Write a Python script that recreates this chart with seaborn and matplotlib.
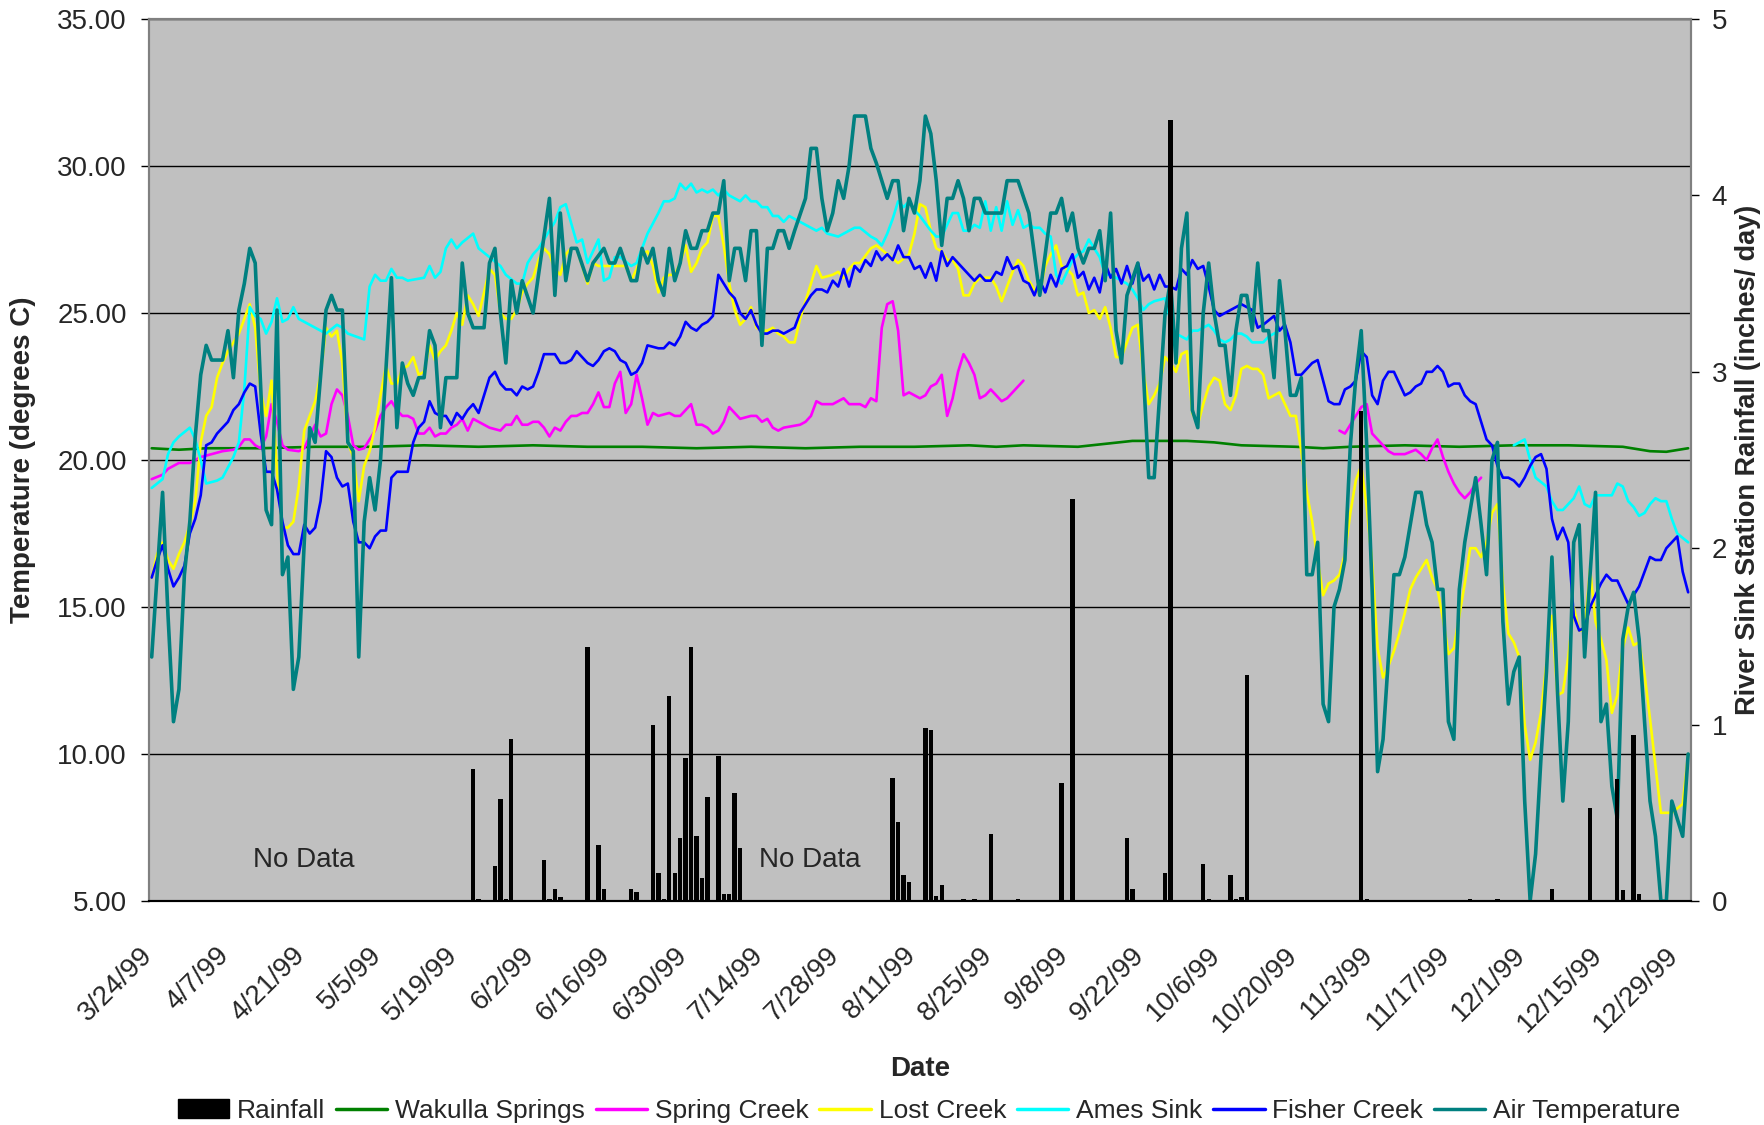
import numpy as np
import pandas as pd
import matplotlib
matplotlib.use('Agg')
import matplotlib.pyplot as plt
from matplotlib.lines import Line2D
from matplotlib.patches import Patch
from matplotlib.ticker import FormatStrFormatter
from matplotlib.transforms import ScaledTranslation
import seaborn as sns

# day 0 = 3/24/99, daily readings through 12/31/99
start = pd.Timestamp('1999-03-24')
n_days = 283

wakulla = [(0,20.4),(5,20.35),(10,20.4),(20,20.4),(30,20.45),(40,20.45),(50,20.5),(60,20.45),(70,20.5),(80,20.45),
           (90,20.45),(100,20.4),(110,20.45),(120,20.4),(130,20.45),(140,20.45),(150,20.5),(155,20.45),(160,20.5),
           (170,20.45),(175,20.55),(180,20.65),(185,20.65),(190,20.65),(195,20.6),(200,20.5),(210,20.45),(215,20.4),
           (220,20.45),(230,20.5),(240,20.45),(250,20.5),(260,20.5),(270,20.45),(275,20.3),(278,20.28),(282,20.4)]

spring = [(0,19.35),(2,19.5),(3,19.7),(5,19.9),(6,19.9),(7,19.9),(8,20.0),(9,20.1),(11,20.2),(13,20.3),(15,20.35),
          (16,20.45),(17,20.7),(18,20.7),(19,20.5),(20,20.4),(21,20.8),(22,21.9),(23,21.3),(24,20.5),(25,20.35),
          (27,20.3),(28,20.4),(29,20.8),(30,21.2),(31,20.8),(32,20.9),(33,21.9),(34,22.4),(35,22.2),(36,21.5),
          (37,20.5),(38,20.35),(39,20.4),(41,21.0),(42,21.5),(43,21.8),(44,22.0),(45,21.7),(46,21.5),(47,21.5),
          (48,21.4),(49,20.9),(50,20.9),(51,21.1),(52,20.8),(53,20.9),(54,20.9),(55,21.1),(56,21.2),(57,21.4),
          (58,21.0),(59,21.4),(60,21.3),(62,21.1),(64,21.0),(65,21.2),(66,21.2),(67,21.5),(68,21.2),(69,21.2),
          (70,21.3),(71,21.3),(72,21.1),(73,20.8),(74,21.1),(75,21.0),(76,21.3),(77,21.5),(78,21.5),(79,21.6),
          (80,21.6),(81,21.9),(82,22.3),(83,21.8),(84,21.8),(85,22.6),(86,23.0),(87,21.6),(88,21.9),(89,22.9),
          (90,22.1),(91,21.2),(92,21.6),(93,21.5),(95,21.6),(96,21.5),(97,21.5),(98,21.7),(99,21.9),(100,21.2),
          (101,21.2),(102,21.1),(103,20.9),(104,21.0),(105,21.3),(106,21.8),(107,21.6),(108,21.4),(110,21.5),
          (111,21.5),(112,21.3),(113,21.4),(114,21.1),(115,21.0),(116,21.1),(119,21.2),(120,21.3),(121,21.5),
          (122,22.0),(123,21.9),(125,21.9),(126,22.0),(127,22.1),(128,21.9),(129,21.9),(130,21.9),(131,21.8),
          (132,22.1),(133,22.0),(134,24.5),(135,25.3),(136,25.4),(137,24.4),(138,22.2),(139,22.3),(140,22.2),
          (141,22.1),(142,22.2),(143,22.5),(144,22.6),(145,22.9),(146,21.5),(147,22.1),(148,23.0),(149,23.6),
          (150,23.3),(151,22.9),(152,22.1),(153,22.2),(154,22.4),(155,22.2),(156,22.0),(157,22.1),(158,22.3),
          (159,22.5),(160,22.7),
          (218,21.0),(219,20.9),(220,21.2),(221,21.5),(222,21.8),(223,21.9),(224,20.9),(225,20.7),(226,20.5),
          (227,20.3),(228,20.2),(230,20.2),(232,20.35),(233,20.2),(234,20.0),(235,20.4),(236,20.7),(237,20.1),
          (238,19.6),(239,19.2),(240,18.9),(241,18.7),(242,18.9),(243,19.2),(244,19.4)]

lost = [(0,16.0),(1,16.8),(2,17.2),(3,16.6),(4,16.3),(5,16.8),(6,17.2),(7,17.8),(8,18.6),(9,20.6),(10,21.5),
        (11,21.8),(12,22.8),(13,23.3),(14,23.7),(15,24.0),(16,24.3),(17,24.8),(18,25.3),(19,24.5),(20,22.3),
        (21,21.5),(22,22.7),(23,19.6),(24,17.7),(25,17.7),(26,17.9),(27,19.1),(28,21.0),(29,21.5),(30,22.0),
        (31,22.9),(32,24.5),(33,24.2),(34,24.4),(35,23.3),(36,20.6),(37,20.1),(38,18.6),(39,19.8),(40,20.3),
        (41,21.1),(42,22.2),(43,23.2),(44,22.6),(45,22.6),(46,23.1),(47,23.2),(48,23.5),(49,22.9),(50,23.0),
        (51,23.9),(52,23.4),(53,23.7),(54,23.9),(55,24.4),(56,25.0),(57,24.6),(58,25.6),(59,25.3),(60,24.9),
        (61,25.7),(62,26.5),(63,26.3),(64,25.0),(65,24.8),(66,24.8),(67,25.1),(68,25.7),(69,26.0),(70,26.2),
        (71,26.8),(72,27.2),(73,27.0),(74,26.5),(75,26.3),(76,27.0),(77,27.2),(78,27.2),(79,26.6),(80,26.0),
        (81,26.7),(82,26.6),(83,26.6),(84,26.6),(85,26.6),(86,26.6),(87,26.6),(88,26.1),(89,26.5),(90,27.0),
        (91,27.1),(92,26.6),(93,25.7),(94,26.2),(95,26.3),(96,26.3),(97,26.7),(98,27.3),(99,26.4),(100,26.7),
        (101,27.2),(102,27.4),(103,28.3),(104,28.3),(105,27.3),(106,26.0),(107,25.1),(108,24.6),(109,24.8),
        (110,25.2),(111,24.5),(112,24.4),(113,24.4),(114,24.5),(115,24.3),(116,24.2),(117,24.0),(118,24.0),
        (119,24.8),(120,25.4),(121,26.0),(122,26.6),(123,26.2),(125,26.3),(126,26.4),(127,26.2),(128,26.5),
        (129,26.7),(130,26.7),(132,27.2),(133,27.3),(135,27.0),(137,26.7),(139,27.0),(140,27.7),(141,28.7),
        (142,28.6),(143,27.8),(144,27.2),(145,27.1),(146,26.8),(147,26.8),(148,26.5),(149,25.6),(150,25.6),
        (151,26.0),(152,26.2),(153,26.2),(154,26.2),(155,25.9),(156,25.4),(157,25.9),(158,26.4),(159,26.8),
        (160,26.6),(161,26.1),(162,25.8),(163,25.7),(164,26.6),(165,27.0),(166,27.3),(167,26.6),(168,26.5),
        (169,26.3),(170,25.6),(171,25.7),(172,25.0),(173,25.1),(174,24.8),(175,25.2),(176,24.5),(177,23.5),
        (178,23.5),(179,24.0),(180,24.5),(181,24.6),(182,23.0),(183,21.9),(184,22.2),(185,22.6),(186,23.5),
        (187,23.3),(188,23.0),(189,23.6),(190,23.7),(191,21.6),(192,21.2),(193,21.9),(194,22.5),(195,22.8),
        (196,22.7),(197,21.9),(198,21.7),(199,22.2),(200,23.1),(201,23.2),(202,23.1),(203,23.1),(204,22.9),
        (205,22.1),(206,22.2),(207,22.3),(208,21.9),(209,21.5),(210,21.5),(211,20.3),(212,18.9),(213,17.9),
        (214,16.6),(215,15.4),(216,15.8),(217,15.9),(218,16.1),(219,16.8),(220,18.2),(221,19.3),(222,19.8),
        (223,18.4),(224,16.5),(225,13.6),(226,12.6),(227,13.0),(228,13.5),(229,14.1),(230,14.8),(231,15.6),
        (232,16.0),(233,16.3),(234,16.6),(235,16.0),(236,15.6),(237,14.6),(238,13.4),(239,13.6),(240,14.7),
        (241,15.8),(242,17.0),(243,17.0),(244,16.7),(245,17.2),(246,18.2),(247,18.5),(248,15.8),(249,14.1),
        (250,13.8),(251,13.3),(252,11.0),(253,9.8),(254,10.4),(255,11.4),(256,13.1),(257,14.7),(258,12.0),
        (259,12.1),(260,13.3),(261,15.0),(262,14.2),(263,14.2),(264,16.3),(265,14.5),(266,13.9),(267,13.2),
        (268,11.4),(269,12.0),(270,13.6),(271,14.3),(272,13.7),(273,13.8),(274,12.7),(275,11.2),(276,9.6),
        (277,8.0),(278,8.0),(279,8.0),(281,8.3),(282,10.0)]

ames = [(0,19.05),(2,19.35),(3,20.2),(4,20.6),(5,20.8),(7,21.1),(8,20.7),(9,20.0),(10,19.2),(12,19.3),(13,19.4),
        (15,20.1),(16,20.6),(17,22.4),(18,25.2),(19,24.9),(20,24.8),(21,24.3),(22,24.7),(23,25.5),(24,24.7),
        (25,24.8),(26,25.2),(27,24.8),(28,24.7),(30,24.5),(32,24.3),(34,24.6),(35,24.5),(36,24.3),(39,24.1),
        (40,25.9),(41,26.3),(42,26.1),(43,26.1),(44,26.5),(45,26.2),(46,26.2),(47,26.1),(50,26.2),(51,26.6),
        (52,26.2),(53,26.4),(54,27.2),(55,27.5),(56,27.2),(57,27.4),(59,27.7),(60,27.2),(62,26.9),(64,26.6),
        (65,26.3),(67,26.0),(68,26.0),(69,26.7),(70,27.0),(71,27.2),(72,27.5),(73,27.8),(74,28.1),(75,28.6),
        (76,28.7),(78,27.4),(79,27.5),(80,26.7),(82,27.5),(83,26.1),(84,26.2),(85,26.9),(86,26.9),(88,26.6),
        (89,26.7),(90,27.2),(91,27.7),(93,28.4),(94,28.8),(95,28.8),(96,28.9),(97,29.4),(98,29.2),(99,29.4),
        (100,29.1),(101,29.2),(102,29.1),(103,29.2),(104,29.0),(105,29.2),(106,29.0),(108,28.8),(109,29.0),
        (110,28.8),(111,28.8),(112,28.6),(113,28.6),(114,28.3),(115,28.3),(116,28.1),(117,28.3),(118,28.2),
        (120,28.0),(122,27.8),(123,27.9),(124,27.7),(126,27.6),(127,27.7),(128,27.8),(129,27.9),(130,27.9),
        (132,27.6),(133,27.5),(134,27.3),(135,27.7),(136,28.2),(137,28.8),(138,28.6),(139,28.8),(140,28.5),
        (141,28.3),(143,27.8),(144,27.6),(145,27.6),(146,28.0),(147,28.4),(148,28.4),(149,27.8),(150,27.8),
        (151,28.0),(152,27.9),(153,28.8),(154,27.8),(155,28.6),(156,27.8),(157,28.8),(158,28.0),(159,28.5),
        (160,27.9),(161,28.0),(162,27.9),(163,27.9),(164,27.7),(165,27.6),(166,26.3),(167,26.0),(168,26.4),
        (169,26.8),(170,27.0),(171,27.1),(172,27.5),(173,27.2),(174,26.9),(175,26.3),(176,26.3),(177,26.2),
        (178,26.1),(179,26.0),(180,25.8),(181,25.5),(182,25.1),(183,25.3),(184,25.4),(186,25.5),(187,24.7),
        (188,24.3),(189,24.2),(190,24.1),(191,24.4),(192,24.4),(193,24.5),(194,24.6),(195,24.4),(196,24.1),
        (197,24.0),(198,24.1),(199,24.3),(200,24.3),(201,24.2),(202,24.0),(203,24.0),(204,24.0),(205,24.2),
        (206,24.3),(207,24.4),
        (250,20.5),(252,20.7),(253,20.0),(254,19.4),(256,19.1),(257,18.6),(258,18.3),(259,18.3),(260,18.5),
        (261,18.7),(262,19.1),(263,18.5),(264,18.4),(265,18.8),(266,18.8),(267,18.8),(268,18.8),(269,19.2),
        (270,19.1),(271,18.6),(272,18.4),(273,18.1),(274,18.2),(275,18.5),(276,18.7),(277,18.6),(278,18.6),
        (279,18.0),(280,17.5),(282,17.2)]

fisher = [(0,16.0),(1,16.6),(2,17.1),(3,16.3),(4,15.7),(5,16.0),(6,16.4),(7,17.5),(8,18.0),(9,18.8),(10,20.5),
          (11,20.6),(12,20.9),(13,21.1),(14,21.3),(15,21.7),(16,21.9),(17,22.3),(18,22.6),(19,22.5),(20,20.9),
          (21,19.6),(22,19.6),(23,19.0),(24,17.9),(25,17.1),(26,16.8),(27,16.8),(28,17.8),(29,17.5),(30,17.7),
          (31,18.6),(32,20.3),(33,20.1),(34,19.4),(35,19.1),(36,19.2),(37,17.9),(38,17.2),(39,17.2),(40,17.0),
          (41,17.4),(42,17.6),(43,17.6),(44,19.4),(45,19.6),(46,19.6),(47,19.6),(48,20.6),(49,21.1),(50,21.3),
          (51,22.0),(52,21.6),(53,21.5),(54,21.5),(55,21.2),(56,21.6),(57,21.4),(58,21.7),(59,21.9),(60,21.6),
          (61,22.2),(62,22.8),(63,23.0),(64,22.6),(65,22.4),(66,22.4),(67,22.2),(68,22.5),(69,22.4),(70,22.5),
          (71,23.0),(72,23.6),(73,23.6),(74,23.6),(75,23.3),(76,23.3),(77,23.4),(78,23.7),(79,23.5),(80,23.3),
          (81,23.2),(82,23.4),(83,23.7),(84,23.8),(85,23.7),(86,23.4),(87,23.3),(88,22.9),(89,23.0),(90,23.3),
          (91,23.9),(93,23.8),(94,23.8),(95,24.0),(96,23.9),(97,24.2),(98,24.7),(99,24.5),(100,24.4),(101,24.6),
          (102,24.7),(103,24.9),(104,26.3),(105,26.0),(106,25.7),(107,25.5),(108,25.0),(109,24.8),(110,25.1),
          (111,24.6),(112,24.3),(113,24.3),(114,24.4),(115,24.4),(116,24.3),(117,24.4),(118,24.5),(119,25.0),
          (120,25.3),(121,25.6),(122,25.8),(123,25.8),(124,25.7),(125,26.1),(126,25.9),(127,26.5),(128,25.9),
          (129,26.6),(130,26.4),(131,26.8),(132,26.6),(133,27.1),(134,26.8),(135,27.0),(136,26.8),(137,27.3),
          (138,26.9),(139,26.9),(140,26.5),(141,26.6),(142,26.2),(143,26.7),(144,26.1),(145,27.1),(146,26.6),
          (147,26.9),(148,26.7),(149,26.5),(150,26.3),(151,26.1),(152,26.3),(153,26.1),(154,26.1),(155,26.4),
          (156,26.3),(157,26.9),(158,26.5),(159,26.6),(160,26.1),(161,26.0),(162,25.6),(163,26.1),(164,25.7),
          (165,26.3),(166,25.9),(167,26.5),(168,26.6),(169,27.0),(170,26.2),(171,26.4),(172,25.8),(173,26.2),
          (174,25.7),(175,26.7),(176,26.2),(177,26.5),(178,26.0),(179,26.6),(180,26.0),(181,26.7),(182,26.1),
          (183,26.3),(184,25.8),(185,26.3),(186,25.9),(187,25.9),(188,25.8),(189,26.5),(190,26.3),(191,26.8),
          (192,26.5),(193,26.6),(194,25.9),(195,25.1),(196,24.9),(198,25.1),(200,25.3),(202,25.1),(203,24.5),
          (204,24.6),(206,24.9),(207,24.4),(208,24.6),(209,24.0),(210,22.9),(211,22.9),(212,23.1),(213,23.3),
          (214,23.4),(215,22.7),(216,22.0),(217,21.9),(218,21.9),(219,22.4),(220,22.5),(221,22.7),(222,23.7),
          (223,23.5),(224,22.2),(225,21.9),(226,22.7),(227,23.0),(228,23.0),(229,22.6),(230,22.2),(231,22.3),
          (232,22.5),(233,22.6),(234,23.0),(235,23.0),(236,23.2),(237,23.0),(238,22.5),(239,22.6),(240,22.6),
          (241,22.2),(242,22.0),(243,21.9),(244,21.3),(245,20.7),(246,20.5),(247,19.8),(248,19.4),(249,19.4),
          (250,19.3),(251,19.1),(252,19.4),(253,19.8),(254,20.1),(255,20.2),(256,19.7),(257,18.0),(258,17.3),
          (259,17.7),(260,17.2),(261,14.7),(262,14.2),(263,14.3),(264,15.0),(265,15.4),(266,15.8),(267,16.1),
          (268,15.9),(269,15.9),(270,15.5),(271,15.1),(272,15.4),(273,15.7),(274,16.2),(275,16.7),(276,16.6),
          (277,16.6),(278,17.0),(279,17.2),(280,17.4),(281,16.2),(282,15.5)]

air = [(0,13.3),(2,18.9),(3,14.7),(4,11.1),(5,12.2),(6,16.1),(7,17.9),(8,20.8),(9,22.9),(10,23.9),(11,23.4),
       (13,23.4),(14,24.4),(15,22.8),(16,25.1),(17,26.0),(18,27.2),(19,26.7),(21,18.3),(22,17.8),(23,25.1),
       (24,16.1),(25,16.7),(26,12.2),(27,13.3),(29,21.1),(30,20.6),(32,25.1),(33,25.6),(34,25.1),(35,25.1),
       (36,20.6),(37,20.3),(38,13.3),(39,17.9),(40,19.4),(41,18.3),(42,20.0),(44,26.2),(45,21.1),(46,23.3),
       (47,22.6),(48,22.2),(49,22.8),(50,22.8),(51,24.4),(52,23.9),(53,21.1),(54,22.8),(56,22.8),(57,26.7),
       (58,25.0),(59,24.5),(61,24.5),(62,26.7),(63,27.2),(64,25.0),(65,23.3),(66,26.1),(67,25.0),(68,26.1),
       (70,25.0),(73,28.9),(74,25.6),(75,28.4),(76,26.1),(77,27.2),(78,27.2),(80,26.1),(81,26.7),(83,27.2),
       (84,26.7),(85,26.7),(86,27.2),(88,26.1),(89,26.1),(90,27.2),(91,26.7),(92,27.2),(93,26.1),(94,25.6),
       (95,27.2),(96,26.1),(97,26.7),(98,27.8),(99,27.2),(100,27.2),(101,27.8),(102,27.8),(103,28.4),(104,28.4),
       (105,29.5),(106,26.1),(107,27.2),(108,27.2),(109,26.1),(110,27.8),(111,27.8),(112,23.9),(113,27.2),
       (114,27.2),(115,27.8),(116,27.8),(117,27.2),(118,27.8),(120,28.9),(121,30.6),(122,30.6),(123,28.9),
       (124,27.8),(125,28.4),(126,29.5),(127,28.9),(128,30.0),(129,31.7),(131,31.7),(132,30.6),(133,30.1),
       (135,28.9),(136,29.5),(137,29.5),(138,27.8),(139,28.9),(140,28.4),(141,29.5),(142,31.7),(143,31.1),
       (144,29.5),(145,27.3),(146,28.9),(147,28.9),(148,29.5),(149,28.9),(150,27.8),(151,28.9),(152,28.9),
       (153,28.4),(156,28.4),(157,29.5),(159,29.5),(161,28.4),(163,25.6),(165,28.4),(166,28.4),(167,28.9),
       (168,27.8),(169,28.4),(170,27.2),(171,26.7),(172,27.2),(173,27.2),(174,27.8),(175,26.1),(176,28.4),
       (177,24.4),(178,23.3),(179,25.6),(181,26.7),(183,19.4),(184,19.4),(186,25.0),(187,26.1),(188,23.3),
       (189,27.2),(190,28.4),(191,21.7),(192,21.1),(193,25.0),(194,26.7),(195,25.0),(196,23.9),(197,23.9),
       (198,22.2),(199,24.4),(200,25.6),(201,25.6),(202,24.4),(203,26.7),(204,24.4),(205,24.4),(206,22.8),
       (207,26.1),(208,24.4),(209,22.2),(210,22.2),(211,22.8),(212,16.1),(213,16.1),(214,17.2),(215,11.7),
       (216,11.1),(217,15.0),(218,15.6),(219,16.6),(220,20.5),(221,22.8),(222,24.4),(223,20.5),(224,15.6),
       (225,9.4),(226,10.5),(227,13.3),(228,16.1),(229,16.1),(230,16.7),(231,17.8),(232,18.9),(233,18.9),
       (234,17.8),(235,17.2),(236,15.6),(237,15.6),(238,11.1),(239,10.5),(240,15.6),(241,17.2),(243,19.4),
       (244,17.8),(245,16.1),(246,20.0),(247,20.6),(248,14.5),(249,11.7),(250,12.8),(251,13.3),(252,8.4),
       (253,5.0),(254,6.6),(255,9.9),(256,12.8),(257,16.7),(258,12.2),(259,8.4),(260,11.1),(261,17.2),
       (262,17.8),(263,13.3),(264,16.1),(265,18.9),(266,11.1),(267,11.7),(268,8.9),(269,7.8),(270,13.9),
       (271,15.0),(272,15.5),(273,13.9),(274,11.1),(275,8.4),(276,7.2),(277,5.0),(278,5.0),(279,8.4),
       (281,7.2),(282,10.0)]

rain_days = [59, 60, 63, 64, 65, 66, 72, 73, 74, 75, 80, 82, 83, 88, 89, 92, 93, 94, 95, 96, 97, 98, 99, 100,
             101, 102, 104, 105, 106, 107, 108, 136, 137, 138, 139, 142, 143, 144, 145, 149, 151, 154, 159, 167,
             169, 179, 180, 186, 187, 193, 194, 198, 199, 200, 201, 222, 223, 242, 247, 257, 264, 269, 270, 272, 273]
rain_in = [0.75, 0.01, 0.20, 0.58, 0.01, 0.92, 0.23, 0.01, 0.07, 0.02, 1.44, 0.32, 0.07, 0.07, 0.05, 1.00, 0.16,
           0.01, 1.16, 0.16, 0.36, 0.81, 1.44, 0.37, 0.13, 0.59, 0.82, 0.04, 0.04, 0.61, 0.30, 0.70, 0.45, 0.15,
           0.11, 0.98, 0.97, 0.03, 0.09, 0.01, 0.01, 0.38, 0.01, 0.67, 2.28, 0.36, 0.07, 0.16, 4.43, 0.21, 0.01,
           0.15, 0.01, 0.02, 1.28, 2.78, 0.01, 0.01, 0.01, 0.07, 0.53, 0.69, 0.06, 0.94, 0.04]

series = [('Wakulla Springs', wakulla, '#008000', 1.9),
          ('Spring Creek', spring, '#ff00ff', 1.9),
          ('Lost Creek', lost, '#ffff00', 1.9),
          ('Ames Sink', ames, '#00ffff', 1.9),
          ('Fisher Creek', fisher, '#0000ff', 1.9),
          ('Air Temperature', air, '#008080', 2.6)]


def frame(pairs):
    d = pd.DataFrame(pairs, columns=['day', 'temp'])
    d['x'] = d['day'] + 0.5          # excel plots each day mid-category
    d['seg'] = (d['day'].diff() > 20).cumsum()   # break line over missing stretches
    return d


sns.set_style('white')
plt.rcParams['font.family'] = ['Liberation Sans', 'DejaVu Sans']

fig = plt.figure(figsize=(17.65, 11.25), dpi=100)
ax = fig.add_axes([0.0844, 0.1991, 0.8736, 0.784])
ax.set_facecolor('#c0c0c0')

for i, (name, pairs, col, lw) in enumerate(series):
    sns.lineplot(data=frame(pairs), x='x', y='temp', units='seg', estimator=None, sort=False,
                 color=col, linewidth=lw, ax=ax, legend=False, zorder=3 + i)

ax2 = ax.twinx()
sns.barplot(x=np.array(rain_days) + 0.5, y=rain_in, native_scale=True, color='black', saturation=1,
            width=0.8, errorbar=None, ax=ax2, zorder=10, linewidth=0, edgecolor='none')

ax.set_xlim(0, n_days)
ax.set_ylim(5, 35)
ax2.set_ylim(0, 5)

tick_days = np.arange(0, 281, 14)
tick_dates = start + pd.to_timedelta(tick_days, unit='D')
tick_labels = [f'{t.month}/{t.day}/{t.strftime("%y")}' for t in tick_dates]
ax.set_xticks(tick_days)
ax.set_xticklabels(tick_labels, rotation=45, ha='right', va='center', rotation_mode='anchor')
shift = ScaledTranslation(-0.18, 0, fig.dpi_scale_trans)
for lab in ax.get_xticklabels():
    lab.set_transform(lab.get_transform() + shift)
ax.set_yticks(np.arange(5, 36, 5))
ax.yaxis.set_major_formatter(FormatStrFormatter('%.2f'))
ax2.set_yticks(np.arange(0, 6, 1))

ax.yaxis.grid(True, color='black', linewidth=1.0)
ax.set_axisbelow(True)

ax.tick_params(axis='both', labelsize=20, direction='out', length=6, width=1, color='black')
ax.tick_params(axis='x', pad=30)
ax.tick_params(axis='y', pad=10)
ax2.tick_params(axis='y', labelsize=20, direction='out', length=6, width=1, color='black', pad=9)

for a in (ax, ax2):
    for s in a.spines.values():
        s.set_color('#808080')
        s.set_linewidth(1.5)
    a.spines['bottom'].set_color('black')

ax.set_xlabel('Date', fontsize=20, fontweight='bold')
ax.xaxis.set_label_coords(0.5, -0.176)
ax.set_ylabel('Temperature (degrees C)', fontsize=20, fontweight='bold')
ax.yaxis.set_label_coords(-0.073, 0.5)
ax2.set_ylabel('River Sink Station Rainfall (inches/ day)', fontsize=19.5, fontweight='bold')
ax2.yaxis.set_label_coords(1.0285, 0.5)

ax.text(28.5, 6.4, 'No Data', fontsize=20, ha='center', va='center', zorder=20)
ax.text(121.2, 6.4, 'No Data', fontsize=20, ha='center', va='center', zorder=20)

handles = [Patch(facecolor='black', edgecolor='black', label='Rainfall')]
for name, pairs, col, lw in series:
    handles.append(Line2D([], [], color=col, linewidth=2.5, label=name))
ax.legend(handles=handles, loc='center', bbox_to_anchor=(0.506, -0.238), ncol=7, frameon=False,
          fontsize=19, handlelength=1.95, handletextpad=0.3, columnspacing=0.4, handleheight=0.7)

fig.savefig('out.png', dpi=100)
